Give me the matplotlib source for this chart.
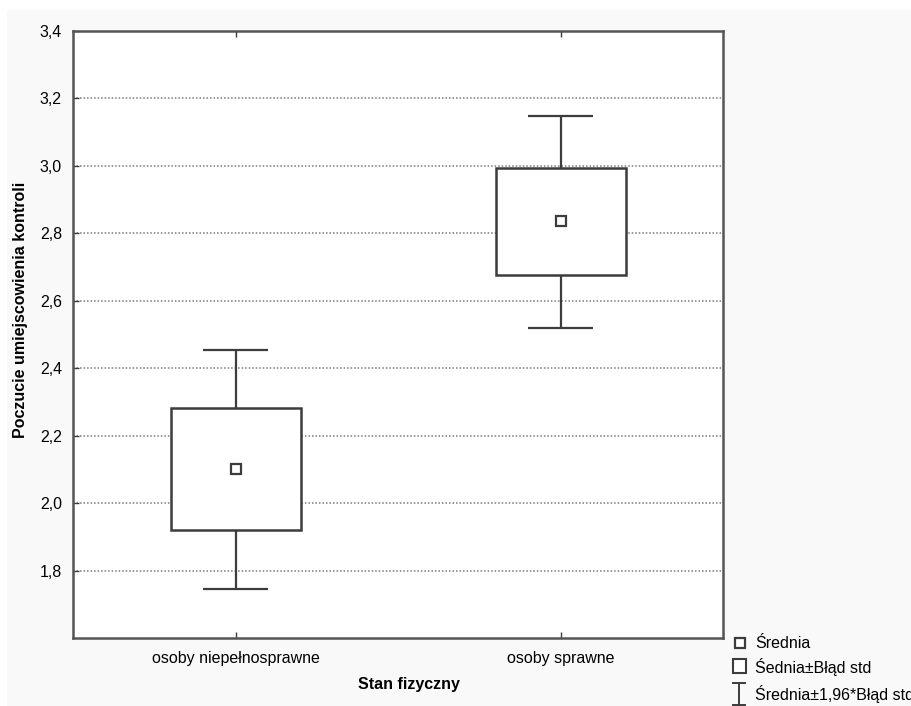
import matplotlib
matplotlib.use("Agg")
import matplotlib.pyplot as plt
from matplotlib.patches import Rectangle
from matplotlib.lines import Line2D
from matplotlib import font_manager

categories = ["osoby niepełnosprawne", "osoby sprawne"]
means = [2.102, 2.837]
se_low = [1.921, 2.677]
se_high = [2.283, 2.994]
ci_low = [1.744, 2.520]
ci_high = [2.455, 3.148]
yticks = [1.8, 2.0, 2.2, 2.4, 2.6, 2.8, 3.0, 3.2, 3.4]
ytick_labels = ["1,8", "2,0", "2,2", "2,4", "2,6", "2,8", "3,0", "3,2", "3,4"]
legend_labels = ["Średnia", "Śednia±Błąd std", "Średnia±1,96*Błąd std"]

names = {f.name for f in font_manager.fontManager.ttflist}
if 'Liberation Sans Narrow' in names:
    fam = 'Liberation Sans Narrow'
    fs = 13.5
else:
    fam = 'Liberation Sans'
    fs = 11.5
plt.rcParams['font.family'] = [fam, 'DejaVu Sans']

W, H = 912, 706
fig = plt.figure(figsize=(W/100, H/100), dpi=100, facecolor='white')
fig.patches.append(Rectangle((7/W, 0), 1, (H-10)/H, transform=fig.transFigure,
                             facecolor='#f9f9f9', edgecolor='none', zorder=-10))

ax = fig.add_axes([73/W, (H-638)/H, (723-73)/W, (638-31)/H])
ax.set_facecolor('white')
lc = '#3c3c3c'
x = list(range(len(categories)))

# grid
for yv in yticks[:-1]:
    ax.axhline(yv, color='#7a7a7a', lw=1.1, ls=(0, (1, 1.3)), zorder=1)

# whiskers
ax.vlines(x, ci_low, ci_high, color=lc, lw=1.6, zorder=2)
ax.hlines(ci_low, [i-0.1 for i in x], [i+0.1 for i in x], color=lc, lw=1.6, zorder=2)
ax.hlines(ci_high, [i-0.1 for i in x], [i+0.1 for i in x], color=lc, lw=1.6, zorder=2)
# boxes
ax.bar(x, [h-l for h, l in zip(se_high, se_low)], bottom=se_low, width=0.4,
       facecolor='white', edgecolor=lc, linewidth=1.8, zorder=3)
# means
ax.plot(x, means, ls='none', marker='s', ms=6.5, mfc='white', mec=lc, mew=1.6, zorder=4)

ax.set_xlim(-0.5, 1.5)
ax.set_ylim(1.6, 3.4)
ax.set_yticks(yticks)
ax.set_yticklabels(ytick_labels, fontsize=fs)
ax.set_xticks(x)
ax.set_xticklabels(categories, fontsize=fs)
ax.tick_params(axis='y', direction='in', length=4, width=1, color=lc, pad=8)
ax.tick_params(axis='x', direction='in', length=4, width=1, color=lc, pad=9, top=True)
for s in ax.spines.values():
    s.set_color('#555555')
    s.set_linewidth(1.8)

fig.text(409/W, 1-685/H, "Stan fizyczny", ha='center', va='center',
         fontsize=fs, fontweight='bold')
fig.text(21/W, 1-310/H, "Poczucie umiejscowienia kontroli", ha='center', va='center',
         rotation=90, fontsize=fs, fontweight='bold')

# legend
tf = fig.transFigure
def fx(px): return px/W
def fy(py): return 1-py/H
fig.lines.append(Line2D([fx(740)], [fy(643)], transform=tf, ls='none', marker='s', ms=6.5,
                        mfc='white', mec=lc, mew=1.6))
fig.patches.append(Rectangle((fx(733), fy(673)), 13/W, 14/H, transform=tf,
                             facecolor='white', edgecolor=lc, lw=1.5))
fig.lines.append(Line2D([fx(739), fx(739)], [fy(683), fy(705)], transform=tf, color=lc, lw=1.4))
fig.lines.append(Line2D([fx(733), fx(745)], [fy(683), fy(683)], transform=tf, color=lc, lw=1.4))
fig.lines.append(Line2D([fx(733), fx(745)], [fy(705), fy(705)], transform=tf, color=lc, lw=1.4))
for lab, yy in zip(legend_labels, [643, 667, 694]):
    fig.text(fx(755), fy(yy), lab, ha='left', va='center', fontsize=fs)

fig.savefig("out.png", dpi=100, facecolor=fig.get_facecolor())
